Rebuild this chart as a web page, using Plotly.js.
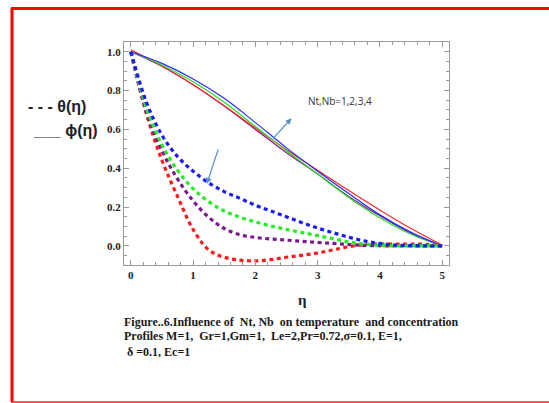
<!DOCTYPE html>
<html>
<head>
<meta charset="utf-8">
<script src="https://cdn.plot.ly/plotly-3.0.1.min.js"></script>
<style>
html,body{margin:0;padding:0;background:#fff;overflow:hidden;}
#chart{width:549px;height:403px;}
</style>
</head>
<body>
<div id="chart"></div>
<script>
// ---- data ----
const etaPhi = [0,0.5,1.0,1.5,2.0,2.5,3.0,3.5,4.0,4.5,5.0];
// concentration phi (solid)
const phiBlue   = [1.0,0.94,0.86,0.76,0.635,0.505,0.385,0.27,0.16,0.07,0.0];
const phiGreen  = [1.0,0.932,0.845,0.74,0.615,0.49,0.37,0.25,0.145,0.06,0.0];
const phiPurple = [1.0,0.925,0.83,0.72,0.60,0.48,0.37,0.255,0.155,0.065,0.0];
const phiRed    = [1.01,0.925,0.83,0.722,0.607,0.495,0.39,0.285,0.185,0.09,0.005];

const eta = [0,0.25,0.5,0.75,1.0,1.25,1.5,1.75,2.0,2.25,2.5,2.75,3.0,3.25,3.5,3.75,4.0,4.25,4.5,4.75,5.0];
// temperature theta (dashed)
const thBlue   = [1.0,0.74,0.57,0.46,0.385,0.325,0.28,0.245,0.21,0.18,0.15,0.12,0.092,0.068,0.045,0.026,0.013,0.005,0.002,0.0,0.0];
const thGreen  = [1.0,0.71,0.52,0.39,0.295,0.228,0.18,0.148,0.124,0.103,0.085,0.069,0.053,0.037,0.021,0.009,0.003,0.0,0.0,0.0,0.0];
const thPurple = [1.0,0.69,0.49,0.345,0.232,0.148,0.09,0.058,0.044,0.036,0.03,0.024,0.018,0.013,0.007,0.003,0.001,0.0,0.0,0.0,0.0];
const thRed    = [1.0,0.68,0.44,0.255,0.085,-0.02,-0.058,-0.073,-0.077,-0.07,-0.058,-0.048,-0.036,-0.02,-0.004,0.007,0.01,0.01,0.01,0.008,0.0];

const xTicks = [0,1,2,3,4,5];
const yTicks = [0,0.2,0.4,0.6,0.8,1.0];

const captionLines = [
  "Figure..6.Influence of  Nt, Nb  on temperature  and concentration",
  "Profiles M=1,  Gr=1,Gm=1,  Le=2,Pr=0.72,\u03c3=0.1, E=1,",
  " \u03b4 =0.1, Ec=1"
];

// ---- geometry helpers (pixel -> paper) ----
const L=124, R=449, T=42, B=265;
const px = v => (v - L)/(R - L);
const py = v => (B - v)/(B - T);

function solid(y, c){ return {x:etaPhi, y:y, mode:'lines', line:{color:c, width:1.2, shape:'spline', smoothing:1}, hoverinfo:'skip'}; }
function dashed(y, c){ return {x:eta, y:y, mode:'lines', line:{color:c, width:3.2, dash:'4px,3.5px', shape:'spline', smoothing:1}, hoverinfo:'skip'}; }

const traces = [
  solid(phiPurple,'#8a1a8a'), solid(phiRed,'#ff2a2a'), solid(phiGreen,'#22dd22'), solid(phiBlue,'#2a2aff'),
  dashed(thRed,'#ff1a1a'), dashed(thPurple,'#7a1a8a'), dashed(thGreen,'#22ee22'), dashed(thBlue,'#1a1aff')
];

const axisCommon = {
  showgrid:false, zeroline:false, showline:true, linecolor:'#9a9a9a', linewidth:1,
  mirror:'allticks', ticks:'inside', ticklen:5, tickcolor:'#9a9a9a', tickwidth:1,
  tickfont:{family:'Liberation Serif', size:11, color:'#222', weight:'bold'}
};

const annFont = {family:'Liberation Serif', size:12, color:'#1a1a1a', weight:'bold'};
const annotations = [
  {xref:'paper', yref:'paper', x:px(306), y:py(101), xanchor:'left', yanchor:'middle', showarrow:false,
   text:'Nt,Nb=1,2,3,4', font:{family:'Open Sans', size:10, color:'#333'}},
  {xref:'paper', yref:'paper', x:px(26), y:py(106), xanchor:'left', yanchor:'middle', showarrow:false,
   text:'- - - \u03b8(\u03b7)', font:{family:'Liberation Sans', size:16, color:'#222', weight:'bold'}},
  {xref:'paper', yref:'paper', x:px(31), y:py(130), xanchor:'left', yanchor:'middle', showarrow:false,
   text:'___ \u03d5(\u03b7)', font:{family:'Liberation Sans', size:16, color:'#222', weight:'bold'}},
  {xref:'paper', yref:'paper', x:px(302), y:py(300), xanchor:'center', yanchor:'middle', showarrow:false,
   text:'\u03b7', font:{family:'Liberation Serif', size:15, color:'#222', weight:'bold'}},
  {xref:'x', yref:'y', axref:'x', ayref:'y', x:2.58, y:0.657, ax:2.26, ay:0.545, text:'', showarrow:true,
   arrowhead:2, arrowsize:1, arrowwidth:1.2, arrowcolor:'#5b8fc7', standoff:0},
  {xref:'x', yref:'y', axref:'x', ayref:'y', x:1.22, y:0.319, ax:1.41, ay:0.504, text:'', showarrow:true,
   arrowhead:2, arrowsize:1, arrowwidth:1.2, arrowcolor:'#5b8fc7', standoff:0}
];
const capY = [322, 336, 352];
captionLines.forEach((t,i)=>{
  annotations.push({xref:'paper', yref:'paper', x:px(122), y:py(capY[i]), xanchor:'left', yanchor:'middle',
    showarrow:false, text:t, font:annFont});
});

const shapes = [
  {type:'line', xref:'paper', yref:'paper', x0:px(12), x1:px(12), y0:py(8), y1:py(402), line:{color:'#ff0000', width:3}},
  {type:'line', xref:'paper', yref:'paper', x0:px(11), x1:px(560), y0:py(8.5), y1:py(8.5), line:{color:'#ff0000', width:3}},
  {type:'line', xref:'paper', yref:'paper', x0:px(11), x1:px(560), y0:py(402), y1:py(402), line:{color:'#ff2020', width:1.5}}
];

const layout = {
  width:549, height:403,
  margin:{l:L, r:549-R, t:T, b:403-B, pad:0},
  paper_bgcolor:'#fff', plot_bgcolor:'#fff',
  showlegend:false,
  xaxis:Object.assign({}, axisCommon, {range:[-0.11,5.11], tickvals:xTicks, ticktext:xTicks.map(String),
    minor:{dtick:0.2, tick0:0, ticks:'inside', ticklen:3, tickcolor:'#9a9a9a'}}),
  yaxis:Object.assign({}, axisCommon, {range:[-0.098,1.05], tickvals:yTicks, ticktext:yTicks.map(v=>v.toFixed(1)),
    minor:{dtick:0.05, tick0:0, ticks:'inside', ticklen:3, tickcolor:'#9a9a9a'}}),
  annotations:annotations,
  shapes:shapes
};

Plotly.newPlot('chart', traces, layout, {displayModeBar:false, staticPlot:true});
</script>
</body>
</html>
